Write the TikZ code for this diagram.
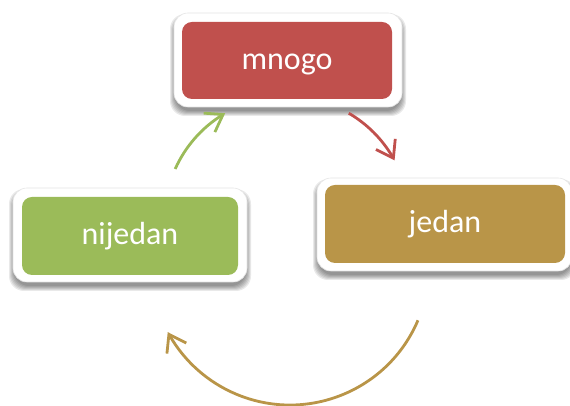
\documentclass[tikz,border=0pt]{standalone}
\usepackage{fontspec}
\setmainfont{Carlito}
\usetikzlibrary{arrows.meta,bending}
\definecolor{cred}{RGB}{192,80,77}
\definecolor{cgreen}{RGB}{155,187,89}
\definecolor{cgold}{RGB}{185,149,72}
\newcommand\boxshadow[4]{%
  \foreach \e in {-1,0,1,2,3,4}{%
    \fill[black,opacity=0.085,rounded corners=15pt] (#1-\e,#2-5-\e) rectangle (#3+\e,#4-5+\e);}}
\tikzset{
  outerbox/.style={draw=black!10, line width=0.6pt, fill=white, rounded corners=14pt, inner sep=0pt},
  innerbox/.style={fill=#1, rounded corners=10pt, inner sep=0pt, text=white,
    font=\fontsize{32}{38}\selectfont, text height=26pt, text depth=8pt},
  cyc/.style={line width=2.8pt, draw=#1, -{Straight Barb[length=16pt,width=22pt,flex]}}
}
\begin{document}
\begin{tikzpicture}[x=1pt,y=1pt]
\useasboundingbox (0,0) rectangle (570,406);
% shadows
\boxshadow{174}{299}{402}{393}
\boxshadow{13}{124}{247}{218}
\boxshadow{317}{135}{572}{228}
% boxes
\node[outerbox, minimum width=228pt, minimum height=94pt] (mo) at (288,346) {};
\node[innerbox=cred, minimum width=210pt, minimum height=77pt] (m) at (287,345.5) {mnogo};
\node[outerbox, minimum width=234pt, minimum height=94pt] (no) at (130,171) {};
\node[innerbox=cgreen, minimum width=216pt, minimum height=78pt] (n) at (130,170) {nijedan};
\node[outerbox, minimum width=255pt, minimum height=93pt] (jo) at (444.5,181.5) {};
\node[innerbox=cgold, minimum width=240pt, minimum height=78pt] (j) at (445,182) {jedan};
% arcs
\coordinate (c1) at (287,187);
\coordinate (c2) at (290,140);
\path (c1) ++(155.9:122.5) coordinate (gs);
\path (c1) ++(59.7:122.5) coordinate (rs);
\path (c2) ++(-23:139) coordinate (ys);
\draw[cyc=cgreen] (gs) arc[start angle=155.9, end angle=120.3, radius=122.5];
\draw[cyc=cred] (rs) arc[start angle=59.7, end angle=28.6, radius=122.5];
\draw[cyc=cgold] (ys) arc[start angle=-23, end angle=-151.6, radius=139];
\end{tikzpicture}
\end{document}
